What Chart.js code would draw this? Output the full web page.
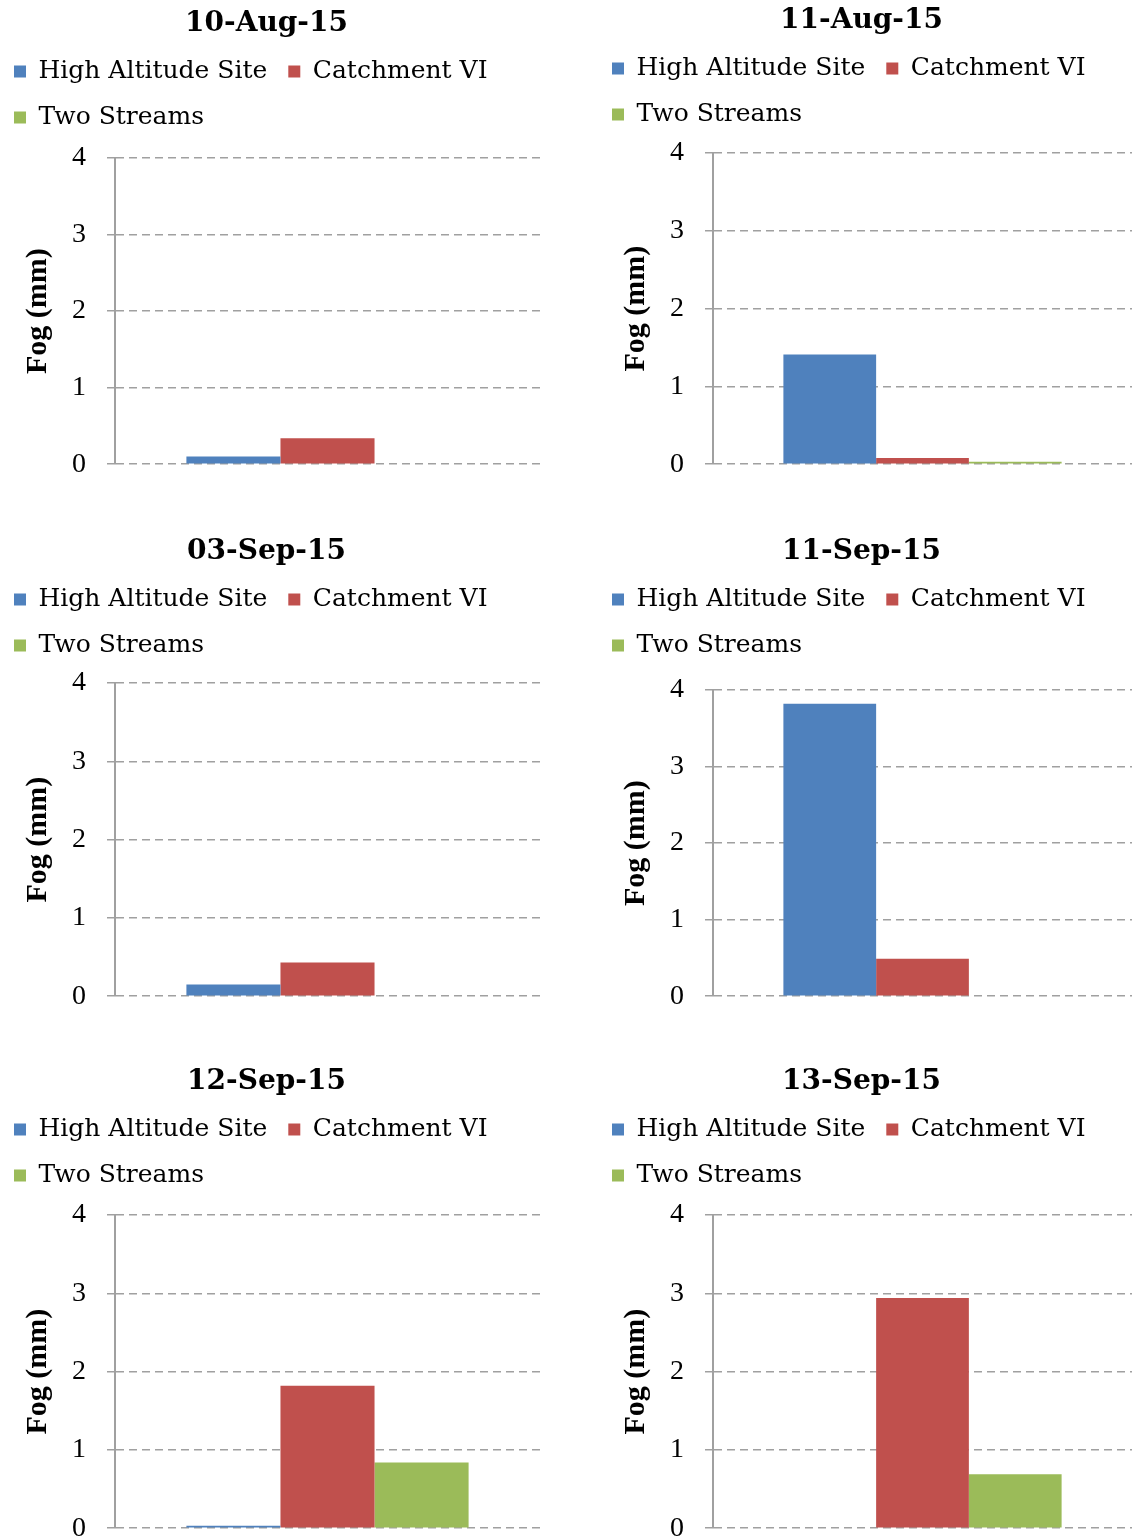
<!DOCTYPE html>
<html>
<head>
    <title>Fog (mm)</title>
    <script src="https://cdn.jsdelivr.net/npm/chart.js"></script>
    <style>
        body { margin: 0; background: #ffffff; overflow: hidden; }
        #strona { position: relative; width: 1134px; height: 1540px; }
        .panel { position: absolute; }
    </style>
</head>
<body>
<div id="strona"></div>
<script>
// dane
const dates = ['10-Aug-15', '11-Aug-15', '03-Sep-15', '11-Sep-15', '12-Sep-15', '13-Sep-15'];
const seriesNames = ['High Altitude Site', 'Catchment VI', 'Two Streams'];
const highAltitude = [0.10, 1.41, 0.15, 3.82, 0.03, 0];
const catchmentVI = [0.34, 0.08, 0.43, 0.49, 1.82, 2.94];
const twoStreams = [0, 0.03, 0, 0, 0.84, 0.69];
const yTicks = [0, 1, 2, 3, 4];
const yTitle = 'Fog (mm)';

const colors = ['#4F81BD', '#C0504D', '#9BBB59'];

// pozycje paneli: left, top, width, height, extra gap under legend
const panels = [
    [-7, 0, 547, 502, 18],
    [591, -3, 541, 505, 16],
    [-7, 528, 547, 506, 15],
    [591, 528, 541, 506, 22],
    [-7, 1058, 547, 508, 17],
    [591, 1058, 541, 508, 17]
];

const legendGap = {
    id: 'legendGap',
    beforeInit(chart, args, opts) {
        const fit = chart.legend.fit;
        chart.legend.fit = function () {
            fit.bind(chart.legend)();
            this.height += opts.extra;
        };
    }
};

const strona = document.getElementById('strona');

dates.forEach((date, i) => {
    const p = panels[i];
    const div = document.createElement('div');
    div.className = 'panel';
    div.style.left = p[0] + 'px';
    div.style.top = p[1] + 'px';
    const canvas = document.createElement('canvas');
    canvas.width = p[2];
    canvas.height = p[3];
    div.appendChild(canvas);
    strona.appendChild(div);

    const values = [highAltitude[i], catchmentVI[i], twoStreams[i]];

    new Chart(canvas, {
        type: 'bar',
        data: {
            labels: [''],
            datasets: seriesNames.map((name, k) => ({
                label: name,
                data: [values[k]],
                backgroundColor: colors[k],
                borderWidth: 0,
                barPercentage: 1,
                categoryPercentage: 0.664
            }))
        },
        options: {
            responsive: false,
            animation: false,
            devicePixelRatio: 1,
            layout: { padding: 0 },
            plugins: {
                title: {
                    display: true,
                    text: date,
                    color: '#000000',
                    font: { family: 'DejaVu Serif', weight: 'bold', size: 28, lineHeight: 1 },
                    padding: { top: 10, bottom: 0 }
                },
                legend: {
                    position: 'top',
                    align: 'start',
                    labels: {
                        color: '#000000',
                        font: { family: 'DejaVu Serif', size: 25 },
                        boxWidth: 12,
                        boxHeight: 12,
                        padding: 21
                    }
                },
                legendGap: { extra: p[4] },
                tooltip: { enabled: false }
            },
            scales: {
                x: { display: false },
                y: {
                    min: yTicks[0],
                    max: yTicks[yTicks.length - 1],
                    afterBuildTicks: axis => { axis.ticks = yTicks.map(v => ({ value: v })); },
                    ticks: {
                        color: '#000000',
                        font: { family: 'Liberation Serif', size: 28 },
                        padding: 21
                    },
                    grid: {
                        color: '#a0a0a0',
                        lineWidth: 1.5,
                        tickLength: 8,
                        tickColor: '#a0a0a0'
                    },
                    border: {
                        display: true,
                        color: '#a0a0a0',
                        width: 2,
                        dash: [8, 5]
                    },
                    title: {
                        display: true,
                        text: yTitle,
                        color: '#000000',
                        font: { family: 'Liberation Serif', weight: 'bold', size: 30, lineHeight: 0.8667 },
                        padding: { top: 32, bottom: 0 }
                    }
                }
            }
        },
        plugins: [legendGap]
    });
});
</script>
</body>
</html>
